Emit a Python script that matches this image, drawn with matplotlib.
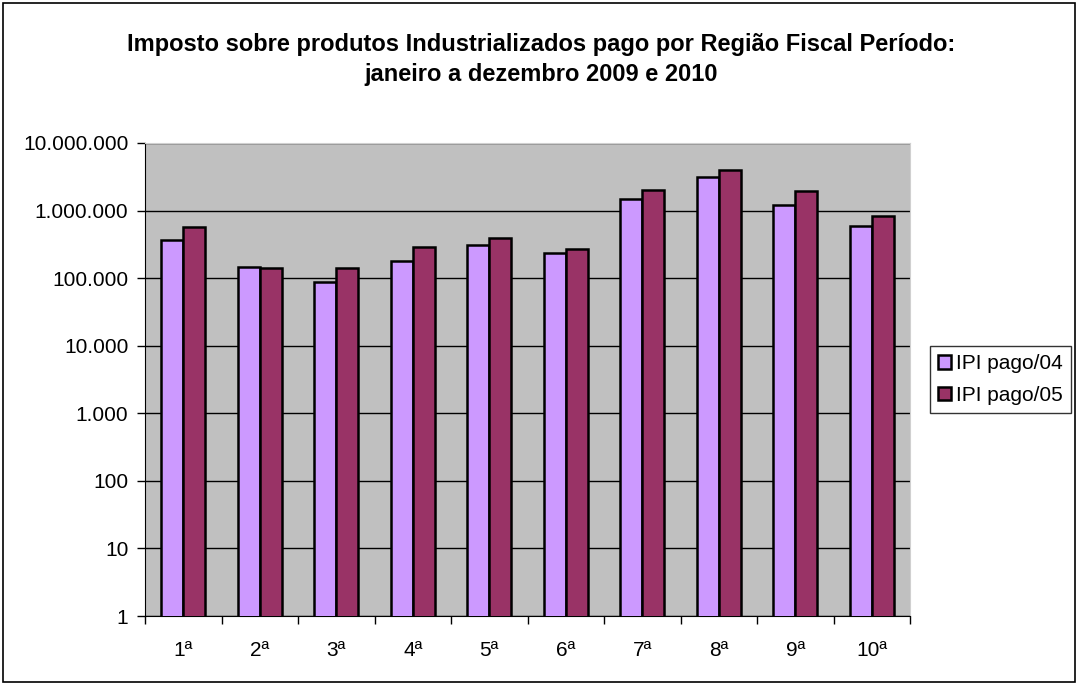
import matplotlib
matplotlib.use('Agg')
import matplotlib.pyplot as plt
from matplotlib.patches import Rectangle
import numpy as np

# data
regioes = ['1ª', '2ª', '3ª', '4ª', '5ª', '6ª', '7ª', '8ª', '9ª', '10ª']
ipi_04 = [369000, 148000, 88000, 179000, 308000, 234000, 1460000, 3180000, 1220000, 583000]
ipi_05 = [571000, 141000, 141000, 293000, 391000, 271000, 2050000, 4050000, 1970000, 834000]
y_ticks = [1, 10, 100, 1000, 10000, 100000, 1000000, 10000000]
y_labels = ['1', '10', '100', '1.000', '10.000', '100.000', '1.000.000', '10.000.000']

plt.rcParams['font.family'] = ['Liberation Sans', 'DejaVu Sans']

fig = plt.figure(figsize=(10.8, 6.84), dpi=100)
W, H = 1080, 684
# plot area in pixels: left 145, right 910, top 143, bottom 616
ax = fig.add_axes([145 / W, 1 - 616 / H, (910 - 145) / W, (616 - 143) / H])
ax.set_facecolor('#C0C0C0')

x = np.arange(len(regioes))
bw = 0.29
ax.bar(x - bw / 2, ipi_04, width=bw, color='#CC99FF', edgecolor='black',
       linewidth=1.8, label='IPI pago/04', zorder=3)
ax.bar(x + bw / 2, ipi_05, width=bw, color='#993366', edgecolor='black',
       linewidth=1.8, label='IPI pago/05', zorder=3)

ax.set_yscale('log')
ax.set_ylim(1, 1e7)
ax.set_xlim(-0.5, len(regioes) - 0.5)
ax.set_yticks(y_ticks)
ax.set_yticklabels(y_labels, fontsize=15)
ax.minorticks_off()
ax.yaxis.grid(True, color='black', linewidth=1.0, zorder=1)

# category ticks sit on the group boundaries, labels centred
ax.set_xticks(np.arange(len(regioes) + 1) - 0.5)
ax.set_xticklabels([])
ax.set_xticks(x, minor=True)
ax.set_xticklabels(regioes, minor=True, fontsize=15)
ax.tick_params(axis='x', which='minor', length=0, pad=18)
ax.tick_params(axis='x', which='major', length=6, width=1, direction='out')
ax.tick_params(axis='y', length=6, width=1, direction='out', pad=6)

ax.spines['left'].set_color('black')
ax.spines['bottom'].set_color('black')
ax.spines['top'].set_color('#D0D0D0')
ax.spines['right'].set_color('#D0D0D0')

fig.text(541 / W, 1 - 44 / H, 'Imposto sobre produtos Industrializados pago por Região Fiscal Período:',
         ha='center', va='center', fontsize=17, fontweight='bold')
fig.text(541 / W, 1 - 74 / H, 'janeiro a dezembro 2009 e 2010',
         ha='center', va='center', fontsize=17, fontweight='bold')

leg = fig.legend(loc='upper left', bbox_to_anchor=(930 / W, 1 - 346 / H),
                 fontsize=15, frameon=True, fancybox=False, edgecolor='black',
                 handlelength=0.6, handleheight=0.6, handletextpad=0.25,
                 borderpad=0.4, labelspacing=0.6, borderaxespad=0)
leg.get_frame().set_linewidth(1.0)

# outer chart border
fig.patches.append(Rectangle((3 / W, 2 / H), 1 - 8 / W, 1 - 5 / H, transform=fig.transFigure,
                             fill=False, edgecolor='black', linewidth=1.2))

fig.savefig('out.png', dpi=100)
